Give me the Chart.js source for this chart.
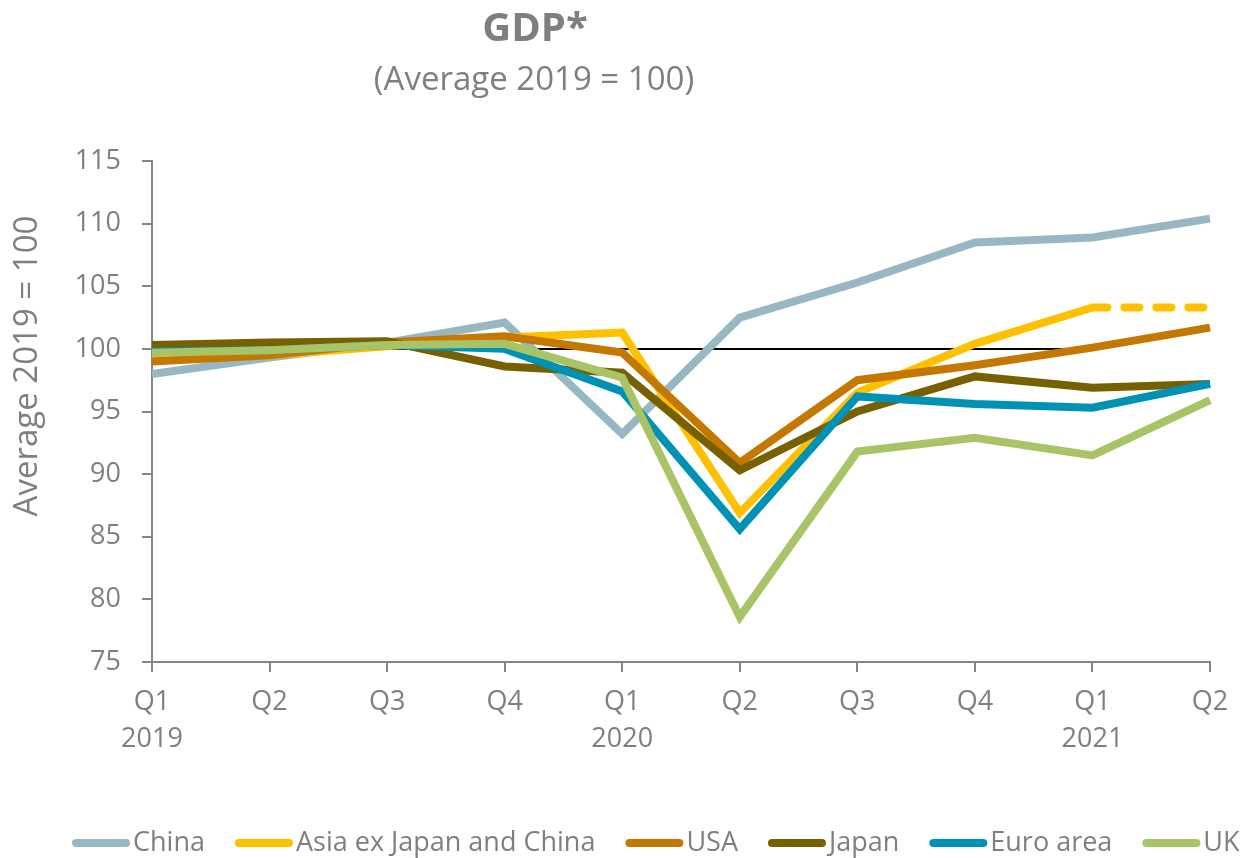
<!DOCTYPE html>
<html>
<head>
<meta charset="utf-8">
<script src="https://cdn.jsdelivr.net/npm/chart.js@4.4.0/dist/chart.umd.min.js"></script>
<style>
  html, body { margin: 0; padding: 0; background: #fff; }
  #wrap { width: 1242px; height: 858px; position: relative; }
</style>
</head>
<body>
<div id="wrap"><canvas id="gdp" width="1242" height="858"></canvas></div>
<script>
const FONT = "'Open Sans', sans-serif";
const GREY = '#7F7F7F';
const AXIS = '#868686';

const quarters = [['Q1', '2019'], 'Q2', 'Q3', 'Q4', ['Q1', '2020'], 'Q2', 'Q3', 'Q4', ['Q1', '2021'], 'Q2'];
const china  = [98.0, 99.3, 100.5, 102.1, 93.2, 102.5, 105.3, 108.5, 108.9, 110.4];
const asiaEx = [99.1, 99.5, 100.2, 100.9, 101.3, 86.9, 96.5, 100.4, 103.3, 103.3];
const usa    = [99.0, 99.5, 100.5, 101.0, 99.7, 90.9, 97.5, 98.7, 100.1, 101.7];
const japan  = [100.3, 100.5, 100.6, 98.6, 98.1, 90.3, 95.0, 97.8, 96.9, 97.2];
const euro   = [99.8, 99.9, 100.3, 100.0, 96.6, 85.6, 96.2, 95.6, 95.3, 97.2];
const uk     = [99.7, 99.9, 100.3, 100.4, 97.7, 78.6, 91.8, 92.9, 91.5, 95.9];
const base   = [100, 100, 100, 100, 100, 100, 100, 100, 100, null];
const yTicks = [75, 80, 85, 90, 95, 100, 105, 110, 115];

const series = [
  { label: 'China', data: china, color: '#97B8C2' },
  { label: 'Asia ex Japan and China', data: asiaEx, color: '#FFC000' },
  { label: 'USA', data: usa, color: '#C47800' },
  { label: 'Japan', data: japan, color: '#776000' },
  { label: 'Euro area', data: euro, color: '#0092B4' },
  { label: 'UK', data: uk, color: '#A9C467' },
];

const datasets = series.map((s, i) => ({
  label: s.label,
  data: s.data,
  borderColor: s.color,
  backgroundColor: s.color,
  borderWidth: 8,
  pointRadius: 0,
  tension: 0,
  order: series.length - i,
  segment: s.label === 'Asia ex Japan and China' ? {
    borderDash: ctx => ctx.p1DataIndex === 9 ? [15, 17] : undefined,
    borderCapStyle: ctx => ctx.p1DataIndex === 9 ? 'round' : 'butt'
  } : undefined
}));
datasets.push({
  label: 'base',
  data: base,
  borderColor: '#000',
  borderWidth: 2,
  pointRadius: 0,
  order: 10
});

// titles, rotated y title and the legend are drawn by hand to match positions
const decorPlugin = {
  id: 'decor',
  afterDraw(chart) {
    const c = chart.ctx;
    c.save();
    c.fillStyle = GREY;
    c.textAlign = 'center';
    c.textBaseline = 'middle';
    c.font = "bold 40px " + FONT;
    c.fillText('GDP*', 535, 30);
    c.font = "33px " + FONT;
    c.fillText('(Average 2019 = 100)', 534, 81);

    c.save();
    c.translate(28, 366);
    c.rotate(-Math.PI / 2);
    c.font = "33px " + FONT;
    c.fillText('Average 2019 = 100', 0, 0);
    c.restore();

    // legend
    c.font = "27px " + FONT;
    c.textAlign = 'left';
    let x = 72;
    const y = 843;
    chart.data.datasets.forEach(ds => {
      if (ds.label === 'base') return;
      c.strokeStyle = ds.borderColor;
      c.lineWidth = 8;
      c.lineCap = 'round';
      c.beginPath();
      c.moveTo(x + 4, y);
      c.lineTo(x + 54, y);
      c.stroke();
      c.fillStyle = GREY;
      c.fillText(ds.label, x + 61, y);
      x += 61 + c.measureText(ds.label).width + 30;
    });
    c.restore();
  }
};

new Chart(document.getElementById('gdp'), {
  type: 'line',
  data: { labels: quarters, datasets },
  plugins: [decorPlugin],
  options: {
    responsive: false,
    animation: false,
    layout: { padding: { top: 161, right: 32, left: 0, bottom: 0 } },
    plugins: {
      tooltip: { enabled: false },
      legend: { display: false }
    },
    scales: {
      x: {
        offset: false,
        grid: { drawOnChartArea: false, drawTicks: true, tickLength: 10, color: AXIS, lineWidth: 2 },
        border: { color: AXIS, width: 2 },
        ticks: { color: GREY, padding: 11, maxRotation: 0, autoSkip: false, font: { family: FONT, size: 27, lineHeight: 1.4 } },
        afterFit: s => { s.height = 196; }
      },
      y: {
        min: 75, max: 115,
        afterBuildTicks: s => { s.ticks = yTicks.map(v => ({ value: v })); },
        grid: { drawOnChartArea: false, drawTicks: true, tickLength: 10, color: AXIS, lineWidth: 2 },
        border: { color: AXIS, width: 2 },
        ticks: { color: GREY, padding: 21, font: { family: FONT, size: 27 } },
        afterFit: s => { s.width = 152; }
      }
    }
  }
});
</script>
</body>
</html>
